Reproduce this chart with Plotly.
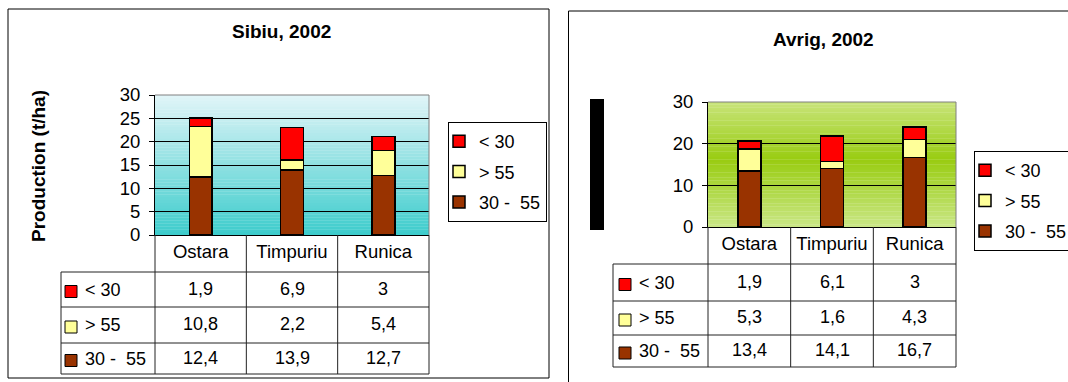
import plotly.graph_objects as go

# ---------------- data ----------------
categories = ["Ostara", "Timpuriu", "Runica"]
series_names = ["30 -  55", "> 55", "< 30"]          # stacking order, bottom -> top
series_colors = ["#993300", "#FFFF99", "#FF0000"]
legend_ranks = [3, 2, 1]                               # legend shows "< 30" first

sibiu_30_55 = [12.4, 13.9, 12.7]
sibiu_gt_55 = [10.8, 2.2, 5.4]
sibiu_lt_30 = [1.9, 6.9, 3]

avrig_30_55 = [13.4, 14.1, 16.7]
avrig_gt_55 = [5.3, 1.6, 4.3]
avrig_lt_30 = [1.9, 6.1, 3]

chart_titles = ["Sibiu, 2002", "Avrig, 2002"]
y_axis_title = "Production (t/ha)"
y_ticks_sibiu = [0, 5, 10, 15, 20, 25, 30]
y_ticks_avrig = [0, 10, 20, 30]

# ---------------- layout geometry (pixels) ----------------
W, H = 1068, 382
FONT = "Liberation Sans, Arial, sans-serif"
F_TITLE, F_TICK, F_TABLE = 19, 18.5, 18


def px(x):
    return x / W


def py(y):
    return 1 - y / H


charts = [
    dict(values=[sibiu_30_55, sibiu_gt_55, sibiu_lt_30], ticks=y_ticks_sibiu,
         title=chart_titles[0], xa="x", ya="y", leg="legend",
         plot=(155, 429, 95, 235), border=(8, 549, 9, 378),
         title_xy=(281.5, 32), bar_w=0.25,
         rows=(272, 307, 343, 374), table_left=61, key_x=65, text_x=83,
         legend_xy=(448, 122),
         top_grad=(226, 245, 248), bot_grad=(60, 204, 204), mid_grad=None,
         ytitle=True),
    dict(values=[avrig_30_55, avrig_gt_55, avrig_lt_30], ticks=y_ticks_avrig,
         title=chart_titles[1], xa="x2", ya="y2", leg="legend2",
         plot=(708, 956, 102, 227), border=(568.5, 1080, 11, 400),
         title_xy=(823.5, 39), bar_w=0.28,
         rows=(264, 301, 335, 367), table_left=613, key_x=619, text_x=637,
         legend_xy=(974, 151),
         top_grad=(200, 228, 122), bot_grad=(202, 231, 134), mid_grad=(153, 204, 17),
         ytitle=False),
]

fig = go.Figure()
shapes = []
annotations = []


def lerp(c1, c2, t):
    return tuple(round(a + (b - a) * t) for a, b in zip(c1, c2))


for ci, ch in enumerate(charts):
    x0, x1, y0, y1 = ch["plot"]
    # bars
    for si in range(3):
        fig.add_trace(go.Bar(
            x=categories, y=ch["values"][si], name=series_names[si],
            marker=dict(color=series_colors[si], line=dict(color="black", width=1.5)),
            width=ch["bar_w"], xaxis=ch["xa"], yaxis=ch["ya"], legend=ch["leg"],
            legendgroup=f"c{ci}s{si}", legendrank=legend_ranks[si],
        ))

    xkey = "xaxis" if ch["xa"] == "x" else "xaxis2"
    ykey = "yaxis" if ch["ya"] == "y" else "yaxis2"
    fig.update_layout(**{
        xkey: dict(domain=[px(x0), px(x1)], range=[-0.5, 2.5], anchor=ch["ya"],
                   showline=True, linecolor="black", linewidth=1, ticks="",
                   showgrid=False, tickfont=dict(size=F_TICK, color="black", family=FONT),
                   ticklabelstandoff=0, fixedrange=True),
        ykey: dict(domain=[py(y1), py(y0)], range=[0, 30], anchor=ch["xa"],
                   tickvals=ch["ticks"], showline=True, linecolor="black", linewidth=1,
                   ticks="outside", ticklen=5, tickcolor="black",
                   showgrid=True, gridcolor="black", gridwidth=1, zeroline=False,
                   tickfont=dict(size=F_TICK, color="black", family=FONT),
                   ticklabelstandoff=5, fixedrange=True),
        ch["leg"]: dict(x=px(ch["legend_xy"][0]), y=py(ch["legend_xy"][1]),
                        xanchor="left", yanchor="top", bgcolor="white",
                        bordercolor="black", borderwidth=1,
                        font=dict(size=F_TABLE, color="black", family=FONT),
                        traceorder="grouped", tracegroupgap=4,
                        indentation=-10),
    })

    # gradient background of plot area
    n = 48
    xd, yd = ch["xa"] + " domain", ch["ya"] + " domain"
    for k in range(n):
        t = (k + 0.5) / n  # from top
        if ch["mid_grad"] is None:
            c = lerp(ch["top_grad"], ch["bot_grad"], t)
        else:
            m = 0.46
            c = lerp(ch["top_grad"], ch["mid_grad"], t / m) if t < m else \
                lerp(ch["mid_grad"], ch["bot_grad"], (t - m) / (1 - m))
        shapes.append(dict(type="rect", xref=xd, yref=yd, x0=0, x1=1,
                           y0=1 - (k + 1) / n - 0.002, y1=1 - k / n,
                           fillcolor="rgb(%d,%d,%d)" % c, line=dict(width=0),
                           layer="below"))
    # gray top / right plot border
    shapes.append(dict(type="path", xref="paper", yref="paper",
                       path=f"M{px(x0)},{py(y0)} L{px(x1)},{py(y0)} L{px(x1)},{py(y1)}",
                       line=dict(color="#808080", width=1), layer="above"))

    # chart border
    bx0, bx1, by0, by1 = ch["border"]
    shapes.append(dict(type="rect", xref="paper", yref="paper",
                       x0=px(bx0), x1=px(bx1), y0=py(by1), y1=py(by0),
                       line=dict(color="black", width=1), fillcolor="rgba(0,0,0,0)"))

    # title
    annotations.append(dict(text=f"<b>{ch['title']}</b>", xref="paper", yref="paper",
                            x=px(ch["title_xy"][0]), y=py(ch["title_xy"][1]),
                            xanchor="center", yanchor="middle", showarrow=False,
                            font=dict(size=F_TITLE, color="black", family=FONT)))

    # data table
    rows = ch["rows"]
    tl = ch["table_left"]
    colw = (x1 - x0) / 3
    line_style = dict(color="#222222", width=1)
    for k in range(4):
        xx = x0 + k * colw
        shapes.append(dict(type="line", xref="paper", yref="paper",
                           x0=px(xx), x1=px(xx), y0=py(y1), y1=py(rows[3]),
                           line=line_style))
    shapes.append(dict(type="line", xref="paper", yref="paper",
                       x0=px(tl), x1=px(tl), y0=py(rows[0]), y1=py(rows[3]),
                       line=line_style))
    for r in rows:
        shapes.append(dict(type="line", xref="paper", yref="paper",
                           x0=px(tl), x1=px(x1), y0=py(r), y1=py(r), line=line_style))

    table_order = [2, 1, 0]  # < 30, > 55, 30 - 55
    for ri, si in enumerate(table_order):
        yc = (rows[ri] + rows[ri + 1]) / 2
        kx = ch["key_x"]
        shapes.append(dict(type="rect", xref="paper", yref="paper",
                           x0=px(kx), x1=px(kx + 12), y0=py(yc + 8), y1=py(yc - 4),
                           fillcolor=series_colors[si], line=dict(color="black", width=1)))
        annotations.append(dict(text=series_names[si], xref="paper", yref="paper",
                                x=px(ch["text_x"]), y=py(yc), xanchor="left",
                                yanchor="middle", showarrow=False,
                                font=dict(size=F_TABLE, color="black", family=FONT)))
        for cat, v in zip(categories, ch["values"][si]):
            annotations.append(dict(text=f"{v:g}".replace(".", ","), xref=ch["xa"],
                                    yref="paper", x=cat, y=py(yc - 1),
                                    xanchor="center", yanchor="middle", showarrow=False,
                                    font=dict(size=F_TABLE, color="black", family=FONT)))

    if ch["ytitle"]:
        annotations.append(dict(text=f"<b>{y_axis_title}</b>", xref="paper", yref="paper",
                                x=px(38), y=py(166), textangle=-90, xanchor="center",
                                yanchor="middle", showarrow=False,
                                font=dict(size=F_TITLE, color="black", family=FONT)))
    else:
        # the axis title of the second chart appears as a solid black block
        shapes.append(dict(type="rect", xref="paper", yref="paper",
                           x0=px(590), x1=px(604), y0=py(230), y1=py(99),
                           fillcolor="black", line=dict(width=0)))

fig.update_layout(
    width=W, height=H,
    margin=dict(l=0, r=0, t=0, b=0, autoexpand=False),
    paper_bgcolor="white", plot_bgcolor="white",
    barmode="stack",
    font=dict(family=FONT, size=F_TABLE, color="black"),
    shapes=shapes, annotations=annotations,
    hovermode=False,
)

fig.write_html("out.html",
               config={"displayModeBar": False, "staticPlot": True},
               post_script="document.body.style.margin='0';document.body.style.overflow='hidden';")
